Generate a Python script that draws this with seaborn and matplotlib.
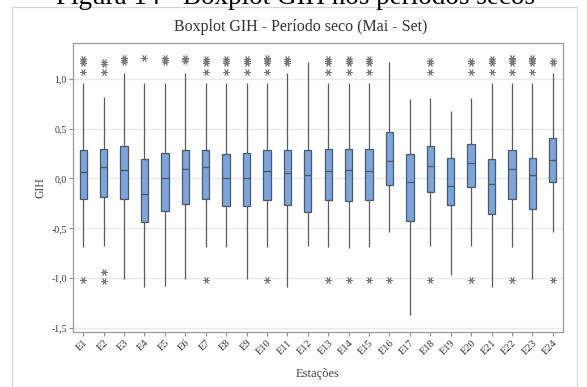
import numpy as np
import pandas as pd
import matplotlib
matplotlib.use("Agg")
import matplotlib.pyplot as plt
from matplotlib.patches import Rectangle
import seaborn as sns

# ---------------- data ----------------
stations = [f"E{i}" for i in range(1, 25)]
q1 = [-0.209, -0.189, -0.209, -0.434, -0.323, -0.256, -0.209, -0.276, -0.276, -0.216,
      -0.270, -0.336, -0.216, -0.222, -0.216, -0.069, -0.424, -0.139, -0.266, -0.082,
      -0.356, -0.209, -0.309, -0.032]
median = [0.068, 0.112, 0.085, -0.159, 0.008, 0.092, 0.112, 0.002, 0.008, 0.075,
          0.052, 0.032, 0.079, 0.085, 0.079, 0.176, -0.035, 0.125, -0.075, 0.152,
          -0.059, 0.092, 0.032, 0.186]
q3 = [0.286, 0.296, 0.326, 0.193, 0.253, 0.286, 0.286, 0.246, 0.253, 0.289,
      0.289, 0.283, 0.293, 0.293, 0.293, 0.464, 0.246, 0.326, 0.209, 0.349,
      0.196, 0.289, 0.209, 0.410]
whisker_low = [-0.685, -0.678, -1.005, -1.086, -1.080, -1.012, -0.685, -0.685, -1.012, -0.685,
               -1.086, -0.678, -0.685, -0.695, -0.685, -0.540, -1.373, -0.678, -0.970, -0.678,
               -1.086, -0.685, -1.012, -0.540]
whisker_high = [0.956, 0.815, 1.056, 0.962, 0.960, 1.062, 0.960, 0.960, 0.962, 0.962,
                1.062, 1.173, 0.962, 0.962, 0.962, 1.173, 0.795, 0.805, 0.678, 0.805,
                0.962, 0.962, 0.962, 1.062]
outliers_high = [
    [1.066, 1.16, 1.18, 1.20], [1.066, 1.15, 1.17], [1.17, 1.19, 1.21], [1.207],
    [1.17, 1.19, 1.21], [1.18, 1.20, 1.21], [1.066, 1.16, 1.18, 1.20], [1.066, 1.16, 1.18, 1.20],
    [1.066, 1.16, 1.18, 1.20], [1.066, 1.16, 1.18, 1.20, 1.21], [1.16, 1.18, 1.20], [],
    [1.066, 1.16, 1.18, 1.20], [1.066, 1.16, 1.18, 1.20], [1.066, 1.16, 1.18, 1.20], [],
    [], [1.066, 1.16, 1.175], [], [1.066, 1.16, 1.175],
    [1.066, 1.16, 1.18, 1.20], [1.066, 1.16, 1.18, 1.20, 1.21], [1.066, 1.16, 1.18, 1.20, 1.21], [1.16, 1.175],
]
outliers_low = [
    [-1.02], [-0.936, -1.026], [], [], [], [], [-1.02], [], [], [-1.02],
    [], [], [-1.02], [-1.02], [-1.02], [-1.02], [], [-1.02], [], [-1.02],
    [], [-1.02], [], [-1.02],
]
ytick_values = [-1.5, -1.0, -0.5, 0.0, 0.5, 1.0]
ytick_labels = ["-1,5", "-1,0", "-0,5", "0,0", "0,5", "1,0"]

# Long-form table: each read summary value is repeated so that the quartiles
# seaborn computes land exactly on the values.
K = 20
rows = []
for i, st in enumerate(stations):
    vals = (outliers_low[i] + [whisker_low[i]] + [q1[i]] * K + [median[i]] * K
            + [q3[i]] * K + [whisker_high[i]] + outliers_high[i])
    rows += [(st, v) for v in vals]
df = pd.DataFrame(rows, columns=["Estação", "GIH"])

# ---------------- style ----------------
sns.set_theme(style="white")
plt.rcParams["font.family"] = ["Liberation Serif", "DejaVu Serif"]

fig = plt.figure(figsize=(5.87, 3.87), dpi=100)
fig.patch.set_facecolor("white")
ax = fig.add_axes([73 / 587, 1 - 332 / 387, 490 / 587, 289 / 387])

ax.set_axisbelow(True)
ax.grid(True, axis="both", color="#e9e9e9", linewidth=1.0)

edge = "#4d5866"
sns.boxplot(
    data=df, x="Estação", y="GIH", order=stations, ax=ax,
    color="#7ba5db", saturation=1, width=0.36, linecolor=edge, linewidth=0.9,
    showcaps=False, whis=1.5,
    flierprops=dict(marker=(6, 2, 90), markersize=5, markeredgecolor="#7a7a7a",
                    markeredgewidth=0.6, markerfacecolor="none"),
    medianprops=dict(color=edge, linewidth=0.9),
    whiskerprops=dict(color="#5a5a5a", linewidth=0.9),
)

ax.set_xlim(-0.5, 23.5)
ax.set_ylim(-1.541, 1.36)
ax.set_yticks(ytick_values)
ax.set_yticklabels(ytick_labels)
ax.tick_params(axis="y", which="both", left=True, length=3, width=0.7, color="#888888",
               labelsize=7, labelcolor="#333333", pad=1.5)
ax.tick_params(axis="x", which="both", bottom=True, length=3, width=0.7, color="#888888",
               labelsize=7.5, labelcolor="#333333", pad=1.5)
for lab in ax.get_xticklabels():
    lab.set_rotation(45)
    lab.set_ha("right")
    lab.set_rotation_mode("anchor")

for sp in ax.spines.values():
    sp.set_color("#9a9a9a")
    sp.set_linewidth(0.9)

ax.set_ylabel("GIH", fontsize=8.5, color="#444444")
ax.set_xlabel("Estações", fontsize=9, color="#444444")
ax.yaxis.set_label_coords(-0.055, 0.5)
ax.xaxis.set_label_coords(0.5, -0.125)

# outer chart frame and titles
fig.add_artist(Rectangle((12 / 587, -0.1), (577 - 12) / 587, (1 - 7 / 387) + 0.1,
                         transform=fig.transFigure, fill=False,
                         edgecolor="#d4d4d4", linewidth=0.8))
fig.text(301 / 587, 1 - 27 / 387, "Boxplot GIH - Período seco (Mai - Set)",
         ha="center", va="center", fontsize=11.5, color="#333333")
fig.text(296 / 587, 1 - 4 / 387, "Figura 14 - Boxplot GIH nos períodos secos",
         ha="center", va="baseline", fontsize=19.5, color="black")

fig.savefig("out.png", dpi=100, facecolor="white")
